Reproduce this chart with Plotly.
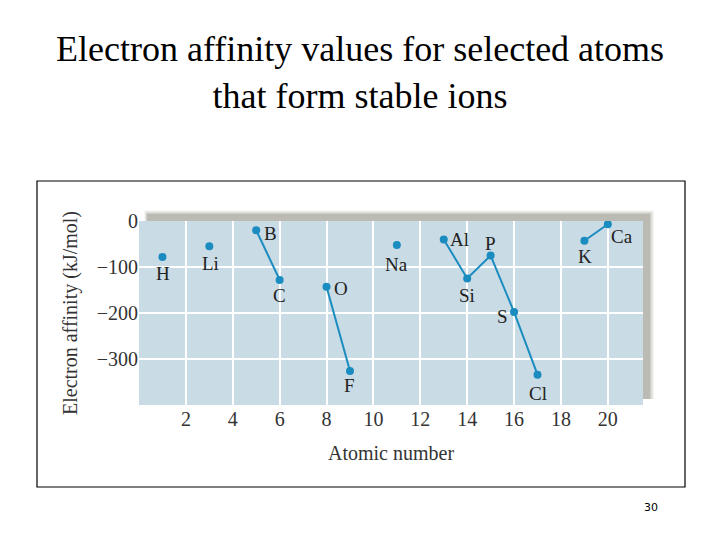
import plotly.graph_objects as go

# ---- data ----
elements = ["H", "Li", "B", "C", "O", "F", "Na", "Al", "Si", "P", "S", "Cl", "K", "Ca"]
atomic_numbers = [1, 3, 5, 6, 8, 9, 11, 13, 14, 15, 16, 17, 19, 20]
affinities = [-78, -55, -20, -128, -143, -326, -52, -40, -125, -75, -198, -334, -43, -7]
# connected groups (by element symbol)
groups = [["H"], ["Li"], ["B", "C"], ["O", "F"], ["Na"], ["Al", "Si", "P", "S", "Cl"], ["K", "Ca"]]
x_ticks = [2, 4, 6, 8, 10, 12, 14, 16, 18, 20]
y_ticks = [0, -100, -200, -300]

# label placement (pixel offsets; style only)
label_offsets = {
    "H": (1, -17), "Li": (1, -17), "B": (14, -3), "C": (0, -16), "O": (14, -2),
    "F": (0, -15), "Na": (0, -20), "Al": (16, 0), "Si": (0, -17), "P": (0, 12),
    "S": (-12, -4), "Cl": (0, -19), "K": (1, -16), "Ca": (14, -12),
}

BLUE = "#1a8cc0"
SERIF = "Liberation Serif, Times New Roman, serif"
TXT = "#222222"
AX = "#333333"

lookup = {e: (z, v) for e, z, v in zip(elements, atomic_numbers, affinities)}

fig = go.Figure()
for g in groups:
    fig.add_trace(go.Scatter(
        x=[lookup[e][0] for e in g],
        y=[lookup[e][1] for e in g],
        mode="lines+markers",
        line=dict(color=BLUE, width=2),
        marker=dict(color=BLUE, size=8),
        showlegend=False, hoverinfo="skip",
    ))

for e in elements:
    z, v = lookup[e]
    dx, dy = label_offsets[e]
    fig.add_annotation(x=z, y=v, text=e, showarrow=False, xshift=dx, yshift=dy,
                       font=dict(family=SERIF, size=19, color=TXT))

# page offset (browser body margin)
OFF = 8
# plot area geometry in target pixels
L, R, T, B = 139, 643, 221, 405
W, H = R - L, B - T
def px(x):
    return (x - L) / W
def py(y):
    return (B - y) / H

shapes = []
# soft shadow (offset up/right)
shadow_layers = [(9, "rgba(175,175,165,0.15)"), (6, "rgba(165,165,155,0.2)"),
                 (3, "rgba(150,150,140,0.25)"), (0, "rgba(140,140,130,0.3)")]
for d, col in shadow_layers:
    shapes.append(dict(type="rect", xref="paper", yref="paper", layer="below",
                       x0=px(L + 8 - d * 0.3), x1=px(R + 7 + d * 0.45),
                       y0=py(B - 6), y1=py(T - 7 - d * 0.4),
                       fillcolor=col, line=dict(width=0)))
# plot background
shapes.append(dict(type="rect", xref="paper", yref="paper", layer="below",
                   x0=0, x1=1, y0=0, y1=1, fillcolor="#c9dbe4", line=dict(width=0)))
# outer framed box
shapes.append(dict(type="rect", xref="paper", yref="paper", layer="below",
                   x0=px(37), x1=px(685), y0=py(487), y1=py(181),
                   fillcolor="rgba(0,0,0,0)", line=dict(color="#000000", width=1.2)))

fig.update_layout(
    width=720, height=540,
    margin=dict(l=L - OFF, r=720 - R + OFF, t=T - OFF, b=540 - B + OFF),
    paper_bgcolor="white", plot_bgcolor="rgba(0,0,0,0)",
    shapes=shapes,
    xaxis=dict(range=[0, 21.5], tickvals=x_ticks, showgrid=True, gridcolor="white",
               gridwidth=1.5, zeroline=False, showline=False, ticks="", automargin=False,
               tickfont=dict(family=SERIF, size=20, color=AX),
               title=dict(text="Atomic number", font=dict(family=SERIF, size=20, color=AX),
                          standoff=16)),
    yaxis=dict(range=[-400, 0], tickvals=y_ticks, showgrid=True, gridcolor="white",
               gridwidth=1.5, zeroline=False, showline=False, ticks="", automargin=False,
               tickfont=dict(family=SERIF, size=20, color=AX),
               title=dict(text="Electron affinity (kJ/mol)",
                          font=dict(family=SERIF, size=20, color=AX), standoff=13)),
)

# slide title
fig.add_annotation(xref="paper", yref="paper", x=px(360), y=py(72), xanchor="center",
                   yanchor="middle", showarrow=False,
                   text="Electron affinity values for selected atoms<br>that form stable ions",
                   font=dict(family=SERIF, size=36, color="black"))
# page number
fig.add_annotation(xref="paper", yref="paper", x=px(651), y=py(507), xanchor="center",
                   yanchor="middle", showarrow=False, text="30",
                   font=dict(family="DejaVu Sans, sans-serif", size=11, color="black"))

fig.write_html("out.html")
